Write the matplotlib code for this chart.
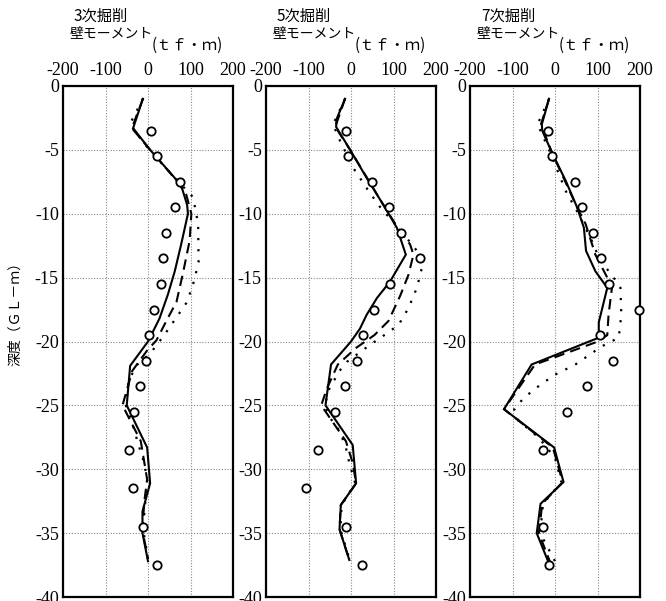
import matplotlib
matplotlib.use("Agg")
import matplotlib.pyplot as plt

plt.rcParams['font.family'] = 'serif'
plt.rcParams['font.serif'] = ['Liberation Serif', 'DejaVu Serif']

# panel titles
stages = ['3次掘削', '5次掘削', '7次掘削']
x_label = '壁モーメント'
x_unit = '(ｔｆ・ｍ)'
y_label = '深度（ＧＬ－ｍ）'

x_ticks = [-200, -100, 0, 100, 200]
y_ticks = [0, -5, -10, -15, -20, -25, -30, -35, -40]

# measured values (circles)
obs_depth = [-3.5, -5.5, -7.5, -9.5, -11.5, -13.5, -15.5, -17.5, -19.5,
             -21.5, -23.5, -25.5, -28.5, -31.5, -34.5, -37.5]
obs_3 = [8, 20, 75, 64, 43, 35, 30, 13, 2, -5, -19, -33, -45, -35, -11, 22]
obs_5 = [-12, -6, 49, 90, 118, 163, 91, 53, 29, 13, -13, -37, -77, -106, -12, 26]
obs_7_depth = [-3.5, -5.5, -7.5, -9.5, -11.5, -13.5, -15.5, -17.5, -19.5,
               -21.5, -23.5, -25.5, -28.5, -34.5, -37.5]
obs_7 = [-16, -6, 46, 63, 89, 109, 128, 198, 105, 136, 76, 29, -29, -29, -14]

# 3次掘削 computed curves
s3_depth = [-1.0, -3.3, -5.0, -7.2, -8.0, -9.3, -10.0, -12.4, -14.5, -16.3, -18.2,
            -20.0, -21.9, -25.0, -28.3, -31.1, -33.3, -35.0, -37.2]
s3_val = [-12, -35, 5, 63, 80, 92, 94, 78, 63, 47, 27, 0, -42, -50, -2, 5, -13, -13, 0]
d3_depth = [-1.0, -3.3, -5.0, -7.5, -8.5, -10.0, -12.1, -14.7, -16.9, -18.4, -19.9,
            -20.7, -22.3, -25.0, -27.8, -30.8, -32.6, -34.8, -37.0]
d3_val = [-12, -38, 5, 70, 90, 102, 98, 82, 67, 43, 20, -2, -37, -60, -17, -2, -9, -13, 0]
p3_depth = [-1.0, -3.0, -5.0, -7.5, -8.7, -10.8, -13.8, -15.3, -16.9, -18.4, -19.6,
            -20.9, -21.8, -23.0, -25.0, -26.4, -27.8, -29.5, -30.8, -33.6, -35.0, -37.0]
p3_val = [-12, -43, 3, 72, 106, 118, 119, 108, 92, 61, 36, 6, -25, -45, -52, -37,
          -25, -9, -2, -9, -10, 0]

# 5次掘削 computed curves
s5_depth = [-1.0, -2.6, -3.2, -5.0, -7.2, -9.3, -11.1, -13.2, -15.3, -16.6, -17.9,
            -19.0, -20.0, -21.8, -25.0, -28.1, -31.1, -32.8, -34.7, -37.1]
s5_val = [-14, -34, -35, -2, 37, 76, 108, 129, 92, 61, 37, 21, 0, -47, -60, 4, 12,
          -24, -27, -4]
d5_depth = [-1.0, -3.2, -5.0, -9.3, -11.1, -12.4, -13.2, -14.8, -16.4, -18.4, -19.5,
            -20.5, -21.8, -23.7, -25.0, -27.8, -29.5, -31.1, -32.8, -34.7, -37.1]
d5_val = [-14, -37, -2, 76, 110, 139, 147, 135, 116, 88, 55, 12, -31, -57, -70, -12,
          4, 12, -24, -27, -4]
p5_depth = [-1.0, -3.0, -4.0, -6.4, -8.2, -9.5, -11.6, -12.9, -14.2, -15.8, -17.4,
            -18.7, -19.7, -20.2, -20.7, -21.6, -22.3, -23.7, -25.0, -25.9, -27.0,
            -28.3, -29.5, -31.1, -32.8, -34.7, -37.0]
p5_val = [-14, -42, -30, 5, 41, 69, 124, 155, 167, 155, 135, 112, 70, 47, 27, -10,
          -27, -51, -62, -51, -27, -12, -4, 10, -22, -25, -4]

# 7次掘削 computed curves
s7_depth = [-1.0, -3.0, -3.5, -5.3, -7.4, -9.5, -11.1, -12.9, -14.5, -15.8, -18.5,
            -19.7, -21.8, -25.3, -28.3, -31.0, -32.7, -35.0, -37.4]
s7_val = [-14, -31, -30, -6, 25, 52, 68, 73, 95, 123, 103, 103, -55, -120, -2, 20,
          -34, -43, -14]
d7_depth = [-1.0, -3.0, -5.3, -9.5, -10.8, -13.2, -15.0, -15.8, -17.9, -19.5, -20.0,
            -21.8, -25.3, -28.3, -31.0, -32.7, -35.0, -37.4]
d7_val = [-14, -33, -6, 52, 72, 95, 123, 134, 126, 123, 101, -47, -120, -5, 18, -30,
          -38, -10]
p7_depth = [-1.0, -3.0, -5.3, -8.2, -10.0, -12.0, -13.7, -14.8, -15.8, -17.9, -19.7,
            -20.4, -21.8, -22.6, -23.4, -24.4, -25.3, -26.2, -27.5, -29.1, -31.0,
            -32.7, -35.0, -37.2]
p7_val = [-14, -41, -10, 25, 55, 85, 107, 134, 154, 156, 150, 109, 48, 0, -35, -73,
          -96, -86, -39, 0, 15, -28, -35, 0]

panels = [
    (s3_depth, s3_val, d3_depth, d3_val, p3_depth, p3_val, obs_depth, obs_3),
    (s5_depth, s5_val, d5_depth, d5_val, p5_depth, p5_val, obs_depth, obs_5),
    (s7_depth, s7_val, d7_depth, d7_val, p7_depth, p7_val, obs_7_depth, obs_7),
]

W, H = 666, 601
fig = plt.figure(figsize=(W / 100, H / 100), dpi=100)

lefts = [63, 266, 470]
ax_w, ax_top, ax_bot = 170, 86, 597
jp = ['Noto Sans CJK JP', 'DejaVu Sans']

for i, (sd, sv, dd, dv, pd, pv, od, ov) in enumerate(panels):
    ax = fig.add_axes([lefts[i] / W, 1 - ax_bot / H, ax_w / W, (ax_bot - ax_top) / H])
    ax.plot(sv, sd, color='black', lw=1.5, solid_joinstyle='miter')
    ax.plot(dv, dd, color='black', lw=1.5, linestyle=(0, (5, 3)))
    ax.plot(pv, pd, color='black', lw=1.6, linestyle=(0, (1, 4)))
    ax.plot(ov, od, linestyle='none', marker='o', ms=6, mfc='white', mec='black',
            mew=1.3, clip_on=False, zorder=5)

    ax.set_xlim(-200, 200)
    ax.set_ylim(-40, 0)
    ax.set_xticks(x_ticks)
    ax.set_yticks(y_ticks)
    ax.set_xticklabels([str(t) for t in x_ticks], fontfamily='Liberation Serif')
    ax.set_yticklabels([str(t) for t in y_ticks], fontfamily='Liberation Serif')
    ax.xaxis.tick_top()
    ax.tick_params(axis='both', length=0, labelsize=13, pad=3)
    ax.tick_params(axis='x', pad=5)
    ax.grid(True, color='#888888', linestyle=(0, (1, 1.5)), lw=0.8)
    for sp in ax.spines.values():
        sp.set_linewidth(1.6)
        sp.set_color('black')

    x0 = lefts[i]
    fig.text((x0 + 11) / W, 1 - 16 / H, stages[i], fontsize=11,
             family=jp, va='center', ha='left')
    fig.text((x0 + 7) / W, 1 - 33 / H, x_label, fontsize=10,
             family=jp, va='center', ha='left')
    fig.text((x0 + 89) / W, 1 - 45 / H, x_unit, fontsize=11,
             family=jp, va='center', ha='left')

fig.text(15 / W, 1 - 310 / H, y_label, rotation=90, fontsize=10,
         family=jp, va='center', ha='center')

fig.savefig('out.png', dpi=100)
